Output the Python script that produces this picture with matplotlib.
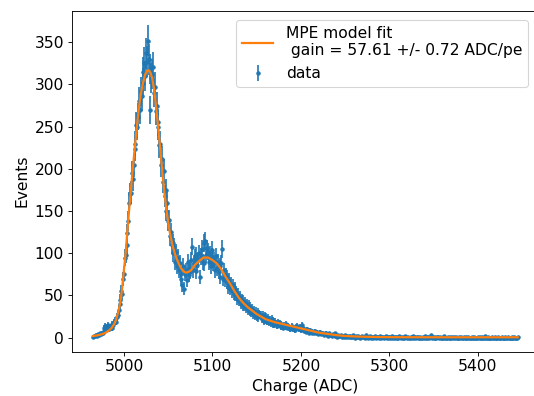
import numpy as np
import matplotlib
matplotlib.use("Agg")
import matplotlib.pyplot as plt

# histogram counts, one bin per ADC count starting at 4965
first_bin = 4965
counts = [
    1, 2, 2, 3, 3, 2, 4, 3, 5, 4,
    6, 5, 8, 12, 14, 11, 13, 15, 10, 12,
    13, 11, 16, 15, 18, 20, 19, 24, 27, 33,
    40, 45, 55, 52, 70, 76, 95, 98, 110, 124,
    138, 160, 170, 172, 195, 188, 205, 230, 224, 252,
    250, 262, 280, 270, 292, 286, 315, 302, 326, 310,
    337, 327, 352, 330, 270, 318, 308, 312, 321, 290,
    297, 268, 275, 250, 255, 228, 230, 205, 212, 185,
    198, 168, 175, 150, 160, 138, 140, 120, 125, 110,
    112, 100, 108, 90, 101, 85, 95, 80, 88, 75,
    70, 62, 85, 58, 76, 80, 68, 90, 74, 83,
    78, 92, 108, 80, 88, 95, 79, 98, 86, 92,
    100, 72, 96, 105, 90, 112, 88, 115, 98, 106,
    102, 90, 99, 85, 96, 104, 88, 92, 80, 97,
    82, 90, 78, 85, 72, 88, 105, 70, 80, 68,
    74, 66, 72, 60, 68, 58, 64, 55, 62, 52,
    58, 50, 54, 46, 52, 44, 48, 40, 45, 38,
    44, 38, 42, 35, 40, 33, 38, 31, 36, 30,
    34, 28, 32, 26, 31, 25, 30, 24, 28, 27,
    26, 22, 27, 20, 25, 21, 24, 19, 23, 18,
    21, 17, 22, 16, 20, 15, 19, 17, 14, 18,
    15, 17, 13, 16, 14, 12, 15, 13, 16, 12,
    14, 11, 13, 10, 12, 14, 10, 12, 9, 13,
    11, 14, 12, 10, 13, 9, 15, 11, 8, 10,
    9, 7, 10, 8, 6, 9, 7, 8, 5, 7,
    6, 8, 5, 7, 4, 6, 5, 7, 4, 5,
    5, 3, 4, 6, 3, 4, 2, 5, 3, 3,
    2, 4, 3, 2, 5, 2, 1, 3, 2, 2,
    3, 1, 2, 2, 1, 3, 1, 2, 1, 2,
    1, 2, 1, 1, 3, 1, 0, 2, 1, 1,
    2, 1, 0, 1, 2, 1, 1, 0, 3, 1,
    1, 0, 1, 2, 0, 1, 1, 0, 1, 2,
    0, 1, 1, 0, 2, 1, 0, 1, 1, 0,
    1, 2, 0, 1, 0, 1, 1, 0, 2, 0,
    1, 0, 1, 1, 0, 0, 2, 1, 0, 1,
    0, 1, 0, 2, 1, 0, 1, 0, 0, 1,
    1, 0, 2, 0, 1, 0, 1, 1, 0, 0,
    1, 0, 0, 1, 0, 2, 0, 1, 0, 1,
    0, 1, 3, 0, 1, 0, 0, 1, 0, 1,
    1, 0, 1, 0, 0, 1, 0, 2, 0, 0,
    0, 1, 0, 1, 0, 0, 1, 0, 1, 0,
    1, 0, 0, 0, 1, 0, 1, 0, 0, 1,
    0, 0, 1, 0, 1, 0, 0, 0, 1, 0,
    0, 1, 0, 0, 0, 1, 0, 1, 0, 0,
    1, 0, 0, 2, 0, 0, 1, 0, 0, 0,
    0, 1, 0, 0, 1, 0, 0, 0, 1, 0,
    0, 0, 1, 0, 0, 0, 1, 0, 0, 1,
    0, 0, 0, 1, 0, 0, 1, 0, 0, 0,
    1,
]

# fit curve
fit_x = [4965, 4970, 4975, 4978, 4982, 4986, 4989, 4991, 4993, 4995,
         4997, 4998, 5000, 5002, 5004, 5006, 5008, 5010, 5012, 5014,
         5016, 5018, 5020, 5022, 5024, 5026, 5028, 5030, 5032, 5034,
         5036, 5038, 5040, 5042, 5044, 5046, 5048, 5050, 5052, 5055,
         5058, 5061, 5064, 5067, 5070, 5073, 5076, 5080, 5085, 5090,
         5095, 5100, 5105, 5110, 5115, 5120, 5125, 5130, 5135, 5140,
         5150, 5160, 5170, 5180, 5190, 5200, 5210, 5220, 5230, 5240,
         5250, 5265, 5280, 5300, 5350, 5400, 5445]
fit_y = [2, 2.8, 4, 5.2, 7.5, 11.5, 16, 21, 28, 37,
         50, 59, 80, 101, 128, 153, 177, 200, 222, 244,
         264, 281, 294, 304, 312, 316, 317, 314, 307, 295,
         277, 257, 235, 212, 190, 170, 152, 137, 124, 109,
         98, 90, 83, 79, 77, 78, 80, 86, 91, 95,
         95, 92, 88, 81, 72, 64, 55, 47, 41, 36,
         28, 22, 18.5, 16, 13.5, 11, 8.5, 6, 4.5, 3,
         2, 1.3, 0.9, 0.6, 0.5, 0.5, 0.5]

gain = 57.61
gain_err = 0.72


def main():
    plt.rcParams['font.size'] = 14
    counts_arr = np.array(counts, dtype=float)
    charge = np.arange(first_bin, first_bin + len(counts_arr))
    errors = np.sqrt(counts_arr)

    fig = plt.figure(figsize=(534 / 80, 396 / 80), dpi=80)
    # right spine sits just past the image edge, as in the reference
    ax = fig.add_axes([0.1343, 0.1119, 0.875, 0.861])

    ax.errorbar(charge, counts_arr, yerr=errors, fmt='.', label='data')
    ax.plot(fit_x, fit_y, color='C1', lw=2, zorder=3,
            label='MPE model fit\n gain = %.2f +/- %.2f ADC/pe' % (gain, gain_err))

    ax.set_xlim(4941, 5469)
    ax.set_ylim(-16.6, 387.4)
    ax.set_xlabel("Charge (ADC)")
    ax.set_ylabel("Events")
    ax.legend(loc='upper right', bbox_to_anchor=(0.994, 0.996))

    fig.savefig("out.png", dpi=80)


if __name__ == "__main__":
    main()
